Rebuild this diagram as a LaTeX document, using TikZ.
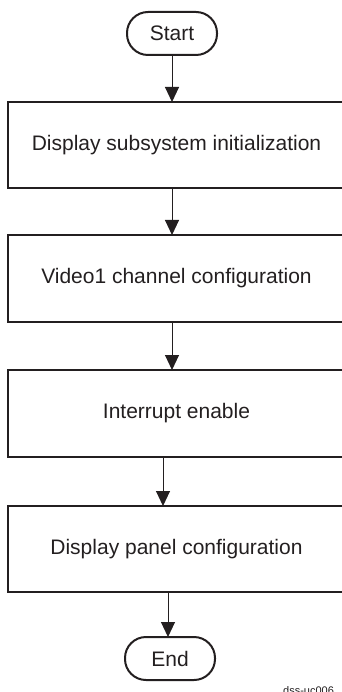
\documentclass[tikz,border=0pt]{standalone}
\usepackage{fontspec}
\setmainfont{Liberation Sans}
\usetikzlibrary{arrows.meta}
\definecolor{ink}{HTML}{231F20}
\tikzset{
  stepbox/.style={draw=ink, line width=2pt, minimum width=337pt, minimum height=86pt,
    inner sep=0pt, outer sep=0pt, text=ink, font=\fontsize{21}{25}\selectfont},
  term/.style={draw=ink, line width=2pt, rounded corners=21pt, minimum width=90pt,
    minimum height=43pt, inner sep=0pt, outer sep=0pt, text=ink, font=\fontsize{21}{25}\selectfont},
  arr/.style={draw=ink, line width=1pt, -{Triangle[length=15pt,width=14pt]}, shorten >=0pt}
}
\begin{document}
\begin{tikzpicture}[x=1pt,y=-1pt]
\useasboundingbox (0,0) rectangle (341,692);
\node[term] (start) at (172,33.5) {Start};
\node[stepbox] (b1) at (176.5,145) {Display subsystem initialization};
\node[stepbox, minimum height=87pt] (b2) at (176.5,278.5) {Video1 channel configuration};
\node[stepbox, minimum height=87pt] (b3) at (176.5,413.5) {Interrupt enable};
\node[stepbox] (b4) at (176.5,549) {Display panel configuration};
\node[term] (end) at (170,658.5) {End};
\node[anchor=base west, inner sep=0pt, text=ink, font=\fontsize{11}{13}\selectfont] (lbl) at (283,694) {dss-uc006};
\draw[arr] (start.south) -- ([xshift=-4.5pt]b1.north);
\draw[arr] ([xshift=-4.5pt]b1.south) -- ([xshift=-4.5pt]b2.north);
\draw[arr] ([xshift=-4.5pt]b2.south) -- ([xshift=-4.5pt]b3.north);
\draw[arr] ([xshift=-13.5pt]b3.south) -- ([xshift=-13.5pt]b4.north);
\draw[arr] ([xshift=-8.5pt]b4.south) -- ([xshift=-2pt]end.north);
\end{tikzpicture}
\end{document}
